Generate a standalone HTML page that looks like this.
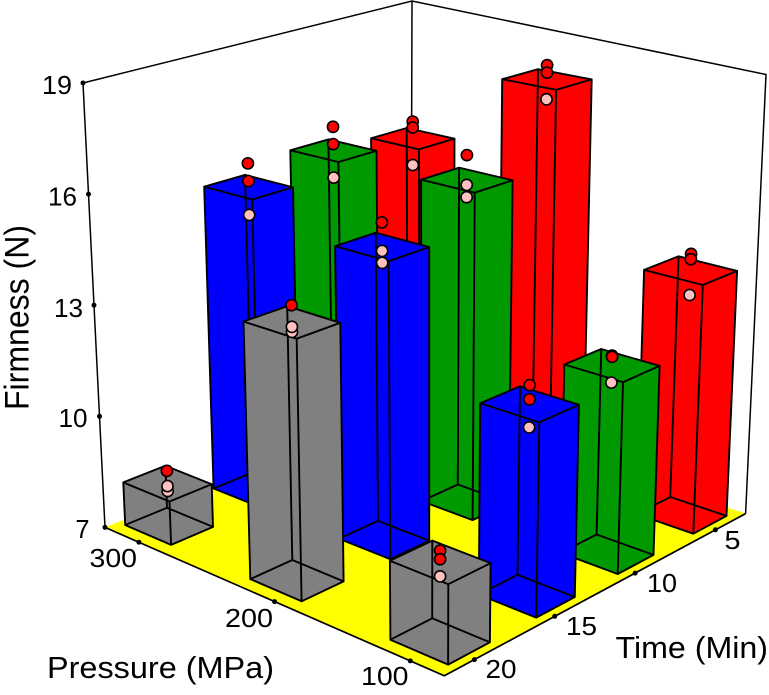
<!DOCTYPE html>
<html lang="en">
<head>
<meta charset="utf-8">
<title>Firmness by Pressure and Time</title>
<style>
html,body{margin:0;padding:0;background:#fff;width:769px;height:695px;overflow:hidden}
svg{display:block}
text{font-family:"Liberation Sans",Arial,sans-serif;fill:#000}
.tick{font-size:26px}
.title{font-size:31px}
</style>
</head>
<body>
<svg id="chart" width="769" height="695" viewBox="0 0 769 695" xmlns="http://www.w3.org/2000/svg">
  <g id="frame"></g>
  <g id="bars"></g>
  <g id="ticks"></g>
  <g>
    <text class="tick" x="42" y="94" textLength="30" lengthAdjust="spacingAndGlyphs">19</text>
    <text class="tick" x="48" y="205.5" textLength="29" lengthAdjust="spacingAndGlyphs">16</text>
    <text class="tick" x="54" y="317" textLength="29" lengthAdjust="spacingAndGlyphs">13</text>
    <text class="tick" x="58.5" y="427" textLength="29" lengthAdjust="spacingAndGlyphs">10</text>
    <text class="tick" x="75.5" y="538" textLength="14" lengthAdjust="spacingAndGlyphs">7</text>
  </g>
  <g>
    <text class="tick" x="89.5" y="567" textLength="47.5" lengthAdjust="spacingAndGlyphs">300</text>
    <text class="tick" x="225" y="627" textLength="48" lengthAdjust="spacingAndGlyphs">200</text>
    <text class="tick" x="361" y="685" textLength="47.5" lengthAdjust="spacingAndGlyphs">100</text>
  </g>
  <g>
    <text class="tick" x="724.5" y="549" textLength="16" lengthAdjust="spacingAndGlyphs">5</text>
    <text class="tick" x="647" y="592" textLength="30" lengthAdjust="spacingAndGlyphs">10</text>
    <text class="tick" x="566" y="635" textLength="31" lengthAdjust="spacingAndGlyphs">15</text>
    <text class="tick" x="485.5" y="678" textLength="31" lengthAdjust="spacingAndGlyphs">20</text>
  </g>
  <text class="title" x="47" y="678" textLength="227" lengthAdjust="spacingAndGlyphs">Pressure (MPa)</text>
  <text class="title" x="615.5" y="658" textLength="152.5" lengthAdjust="spacingAndGlyphs">Time (Min)</text>
  <text class="title" transform="translate(28.5,410) rotate(-90)" x="0" y="0" style="font-size:34px" textLength="185" lengthAdjust="spacingAndGlyphs">Firmness (N)</text>
</svg>
<script>
// ---- data ----
const pressures = [300, 200, 100];
const times = [5, 10, 15, 20];
const firmnessTicks = [7, 10, 13, 16, 19];
const timeColors = ['#ff0000', '#009900', '#0000ff', '#808080'];

// bar heights: one row per time, columns follow pressures
const meanAt5  = [15.58, 18.02, 13.78];
const meanAt10 = [15.90, 15.97, 12.11];
const meanAt15 = [15.58, 14.95, 12.03];
const meanAt20 = [8.22, 13.82, 9.04];

// replicate readings: highest, middle, lowest
const highAt5  = [16.07, 18.40, 14.22];
const highAt10 = [16.56, 16.63, 12.36];
const highAt15 = [16.22, 15.58, 12.51];
const highAt20 = [8.57, 14.25, 9.33];

const midAt5  = [15.90, 18.20, 14.08];
const midAt10 = [16.08, 15.84, 12.33];
const midAt15 = [15.74, 14.84, 12.15];
const midAt20 = [8.14, 13.70, 9.11];

const lowAt5  = [14.81, 17.48, 13.12];
const lowAt10 = [15.14, 15.51, 11.65];
const lowAt15 = [14.82, 14.53, 11.43];
const lowAt20 = [8.00, 13.57, 8.67];

// whether the middle replicate is in the red group
const midIsRedAt5  = [true, true, true];
const midIsRedAt10 = [true, false, true];
const midIsRedAt15 = [true, false, true];
const midIsRedAt20 = [false, false, true];

const meanRows = [meanAt5, meanAt10, meanAt15, meanAt20];
const highRows = [highAt5, highAt10, highAt15, highAt20];
const midRows  = [midAt5, midAt10, midAt15, midAt20];
const lowRows  = [lowAt5, lowAt10, lowAt15, lowAt20];
const midRedRows = [midIsRedAt5, midIsRedAt10, midIsRedAt15, midIsRedAt20];

// ---- axis functions: perspective projection ----
const NS = 'http://www.w3.org/2000/svg';
function uOf(p) { return (p - 100) / 200; }
function vOf(t) { return (20 - t) / 15; }
function zOf(f) { return (f - 7) / 12; }
function project(u, v, z) {
  const d = 1 + 0.12 * u + 0.12 * v - 0.068 * z;
  return [
    (440 - 250.7 * u + 323.3 * v - 29.2 * z) / d,
    (641 - 51.9 * u - 64.2 * v - 503.3 * z) / d
  ];
}
function at(p, t, f) { return project(uOf(p), vOf(t), zOf(f)); }
function lerp(a, b, k) { return [a[0] + (b[0] - a[0]) * k, a[1] + (b[1] - a[1]) * k]; }
function pts(list) { return list.map(function (q) { return q[0].toFixed(1) + ',' + q[1].toFixed(1); }).join(' '); }
function make(tag, parent) {
  const el = document.createElementNS(NS, tag);
  parent.appendChild(el);
  return el;
}

// axis extents
const pMin = 75, pMax = 325, tNear = 21.875, tFar = 3.125;
const cornerF = at(pMin, tNear, 7);
const cornerL = at(pMax, tNear, 7);
const cornerR = at(pMin, tFar, 7);
const cornerB = at(pMax, tFar, 7);
const topL = [83, 83], topB = [412, 1], topR = [766, 74.5];

// ---- frame ----
const frame = document.getElementById('frame');
const floor = make('polygon', frame);


floor.setAttribute('points', pts([cornerF, cornerL, cornerB, cornerR]));
floor.setAttribute('fill', '#ffff00');

const floorEdge = make('polyline', frame);


floorEdge.setAttribute('points', pts([cornerL, cornerF, cornerR]));
floorEdge.setAttribute('fill', 'none');
floorEdge.setAttribute('stroke', '#000');
floorEdge.setAttribute('stroke-width', '1.7');

const walls = make('polyline', frame);


walls.setAttribute('points', pts([cornerL, topL, topB, topR, cornerR]));
walls.setAttribute('fill', 'none');
walls.setAttribute('stroke', '#000');
walls.setAttribute('stroke-width', '1.5');

const backEdge = make('polyline', frame);


backEdge.setAttribute('points', pts([topB, cornerB]));
backEdge.setAttribute('fill', 'none');
backEdge.setAttribute('stroke', '#000');
backEdge.setAttribute('stroke-width', '1.5');

// ---- bars, back to front ----
const halfP = 19, halfT = 1.16;
const barsGroup = document.getElementById('bars');
const cells = [];
times.forEach(function (t, ti) {
  pressures.forEach(function (p, pi) {
    cells.push({ t: t, p: p, ti: ti, pi: pi });
  });
});
cells.sort(function (a, b) {
  return (uOf(b.p) + vOf(b.t)) - (uOf(a.p) + vOf(a.t));
});

function addFace(group, corners, color, name) {
  const face = make('polygon', group);
  
  
  face.setAttribute('points', pts(corners));
  face.setAttribute('fill', color);
}
function addPoint(group, p, t, value, color, name) {
  const c = at(p, t, value);
  const dot = make('circle', group);
  
  
  dot.setAttribute('cx', c[0].toFixed(1));
  dot.setAttribute('cy', c[1].toFixed(1));
  dot.setAttribute('r', '5.6');
  dot.setAttribute('fill', color);
  dot.setAttribute('stroke', '#000');
  dot.setAttribute('stroke-width', '1.6');
}

cells.forEach(function (cell) {
  const p = cell.p, t = cell.t;
  const value = meanRows[cell.ti][cell.pi];
  const color = timeColors[cell.ti];
  const group = make('g', barsGroup);
  
  

  const bF = at(p - halfP, t + halfT, 7), tF = at(p - halfP, t + halfT, value);
  const bL = at(p + halfP, t + halfT, 7), tL = at(p + halfP, t + halfT, value);
  const bR = at(p - halfP, t - halfT, 7), tR = at(p - halfP, t - halfT, value);
  const bB = at(p + halfP, t - halfT, 7), tB = at(p + halfP, t - halfT, value);

  addFace(group, [bF, bL, tL, tF], color, 'bar-left-face');
  addFace(group, [bF, bR, tR, tF], color, 'bar-right-face');
  addFace(group, [tF, tL, tB, tR], color, 'bar-top-face');

  const edges = make('path', group);
  
  
  const segs = [
    [bF, bL], [bL, bB], [bB, bR], [bR, bF],
    [tF, tL], [tL, tB], [tB, tR], [tR, tF],
    [bF, tF], [bL, tL], [bR, tR], [bB, tB]
  ];
  edges.setAttribute('d', segs.map(function (s) {
    return 'M' + s[0][0].toFixed(1) + ' ' + s[0][1].toFixed(1) + 'L' + s[1][0].toFixed(1) + ' ' + s[1][1].toFixed(1);
  }).join(''));
  edges.setAttribute('fill', 'none');
  edges.setAttribute('stroke', '#000');
  edges.setAttribute('stroke-width', '1.9');
  edges.setAttribute('stroke-linecap', 'round');

  const midColor = midRedRows[cell.ti][cell.pi] ? '#ff0000' : '#ffc0c0';
  addPoint(group, p, t, highRows[cell.ti][cell.pi], '#ff0000', 'point-high');
  addPoint(group, p, t, lowRows[cell.ti][cell.pi], '#ffc0c0', 'point-low');
  addPoint(group, p, t, midRows[cell.ti][cell.pi], midColor, 'point-middle');
});

// ---- tick dots ----
const ticksGroup = document.getElementById('ticks');
function addTick(q, name) {
  const dot = make('circle', ticksGroup);
  
  
  dot.setAttribute('cx', q[0].toFixed(1));
  dot.setAttribute('cy', q[1].toFixed(1));
  dot.setAttribute('r', '2.5');
  dot.setAttribute('fill', '#000');
}
firmnessTicks.forEach(function (f) {
  addTick(lerp(cornerL, topL, zOf(f)), 'firmness-tick-mark');
});
pressures.forEach(function (p) {
  addTick(lerp(cornerF, cornerL, (p - pMin) / (pMax - pMin)), 'pressure-tick-mark');
});
times.forEach(function (t) {
  addTick(lerp(cornerF, cornerR, (tNear - t) / (tNear - tFar)), 'time-tick-mark');
});
</script>
</body>
</html>
